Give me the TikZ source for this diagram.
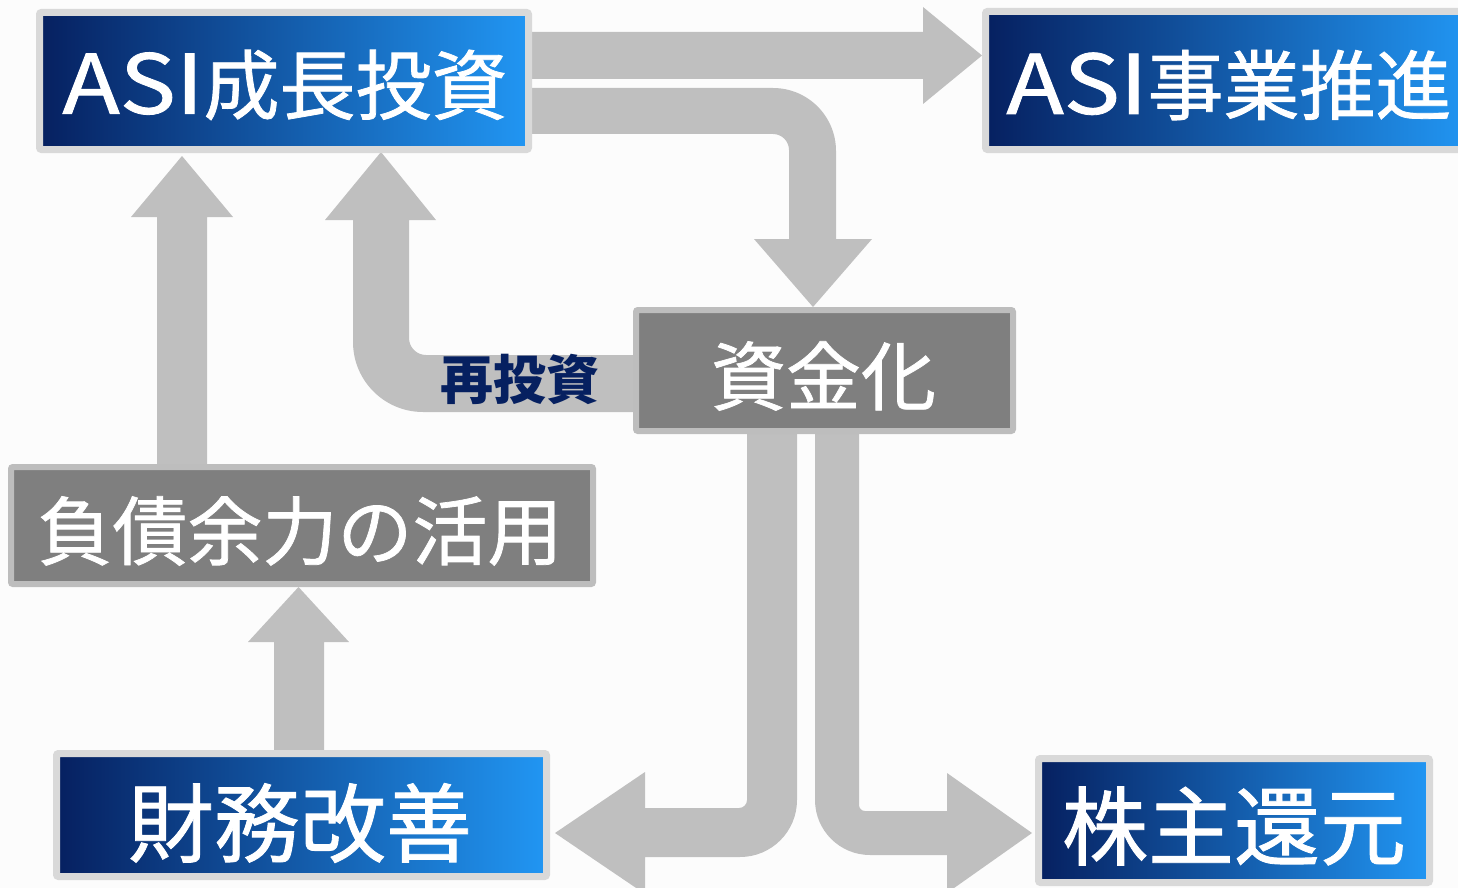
\documentclass[tikz,border=0pt]{standalone}
\usepackage{fontspec}
\setmainfont{Noto Sans CJK JP}
\newfontfamily\medfont{Noto Sans CJK JP}[FakeBold=1]
\usetikzlibrary{calc}
\pgfdeclarelayer{bg}
\pgfdeclarelayer{arr}
\pgfsetlayers{bg,arr,main}
\definecolor{navy}{HTML}{062060}
\definecolor{sky}{HTML}{2196F3}
\definecolor{arrgray}{HTML}{BFBFBF}
\definecolor{boxgray}{HTML}{7F7F7F}
\definecolor{rimlight}{HTML}{D9D9D9}
\definecolor{rimgray}{HTML}{BDBDBD}
\definecolor{paper}{HTML}{FCFCFC}
\newcommand{\wideASI}{\scalebox{1.24}[1.08]{ASI}}
\begin{document}
\begin{tikzpicture}[x=1pt,y=-1pt,
  bluebox/.style={draw=rimlight, line width=7pt, left color=navy, right color=sky, rounded corners=2pt, inner sep=0pt},
  graybox/.style={draw=rimgray, line width=6pt, fill=boxgray, rounded corners=2pt, inner sep=0pt},
  boxtext/.style={text=white, inner sep=0pt},
  flow/.style={fill=arrgray}]
\useasboundingbox (0,0) rectangle (1458,888);
\begin{pgfonlayer}{bg}
\fill[paper] (0,0) rectangle (1458,888);
\end{pgfonlayer}

% boxes
\node[bluebox, minimum width=489pt, minimum height=137pt] (g) at (284,81) {};
\node[bluebox, minimum width=486pt, minimum height=138pt] (p) at (1228.5,80.5) {};
\node[graybox, minimum width=377pt, minimum height=121pt] (s) at (824.5,370.5) {};
\node[graybox, minimum width=582pt, minimum height=117pt] (f) at (302,525.5) {};
\node[bluebox, minimum width=490pt, minimum height=123pt] (z) at (301.5,815) {};
\node[bluebox, minimum width=391pt, minimum height=124pt] (k) at (1234,820.5) {};

% texts
\node[boxtext, font=\medfont\fontsize{76}{80}\selectfont] (gt) at (285,85) {\wideASI 成長投資};
\node[boxtext, font=\medfont\fontsize{76}{80}\selectfont] (pt) at (1229,85) {\wideASI 事業推進};
\node[boxtext, font=\medfont\fontsize{75}{80}\selectfont] (st) at (823.5,376) {資金化};
\node[boxtext, font=\medfont\fontsize{75}{80}\selectfont] (ft) at (300,531) {負債余力の活用};
\node[boxtext, font=\medfont\fontsize{86}{90}\selectfont] (zt) at (300,823) {財務改善};
\node[boxtext, font=\medfont\fontsize{86}{90}\selectfont] (kt) at (1234,826) {株主還元};

% arrows
\begin{pgfonlayer}{arr}
\fill[flow] ($(g.east)+(-6,-49)$) -- (923,32) -- (923,7) -- ($(p.west)+(0,-25)$) -- (923,104) -- (923,79) -- ($(g.east)+(-6,-2)$) -- cycle;
\fill[flow] ($(g.east)+(-6,7)$) -- (773,88) arc[start angle=-90,end angle=0,radius=63] -- (836,239) -- (872,239) -- ($(s.north)+(-11.5,0)$) -- (754,239) -- (789,239) -- (789,150) arc[start angle=0,end angle=-90,radius=16] -- ($(g.east)+(-6,53)$) -- cycle;
\fill[flow] ($(s.west)+(6,-15.5)$) -- (426,355) arc[start angle=90,end angle=180,radius=17] -- (409,220) -- (436,220) -- ($(g.south)+(97,-1)$) -- (325,220) -- (353,220) -- (353,342) arc[start angle=180,end angle=90,radius=70] -- ($(s.west)+(6,41.5)$) -- cycle;
\fill[flow] ($(s.south)+(-77.5,-4)$) -- (747,800) arc[start angle=0,end angle=90,radius=8] -- (645,808) -- (645,772) -- ($(z.east)+(5,18)$) -- (645,894) -- (645,857) -- (740,857) arc[start angle=90,end angle=0,radius=57] -- ($(s.south)+(-27.5,-4)$) -- cycle;
\fill[flow] ($(s.south)+(34.5,-4)$) -- (859,805) arc[start angle=180,end angle=90,radius=6] -- (947,811) -- (947,773) -- ($(k.west)+(-3,12.5)$) -- (947,893) -- (947,855) -- (870,855) arc[start angle=90,end angle=180,radius=55] -- ($(s.south)+(-9.5,-4)$) -- cycle;
\fill[flow] ($(f.north)+(-145,6)$) -- (157,217) -- (131,217) -- ($(g.south)+(-102,3)$) -- (233,217) -- (207,217) -- ($(f.north)+(-95,6)$) -- cycle;
\fill[flow] ($(z.north)+(-27.5,6)$) -- (274,642) -- (248,642) -- ($(f.south)+(-3.5,0)$) -- (349,642) -- (324,642) -- ($(z.north)+(22.5,6)$) -- cycle;
\end{pgfonlayer}

\node[inner sep=0pt, text=navy, font=\fontsize{53}{56}\selectfont\bfseries] (rt) at (520,379) {再投資};
\end{tikzpicture}
\end{document}
